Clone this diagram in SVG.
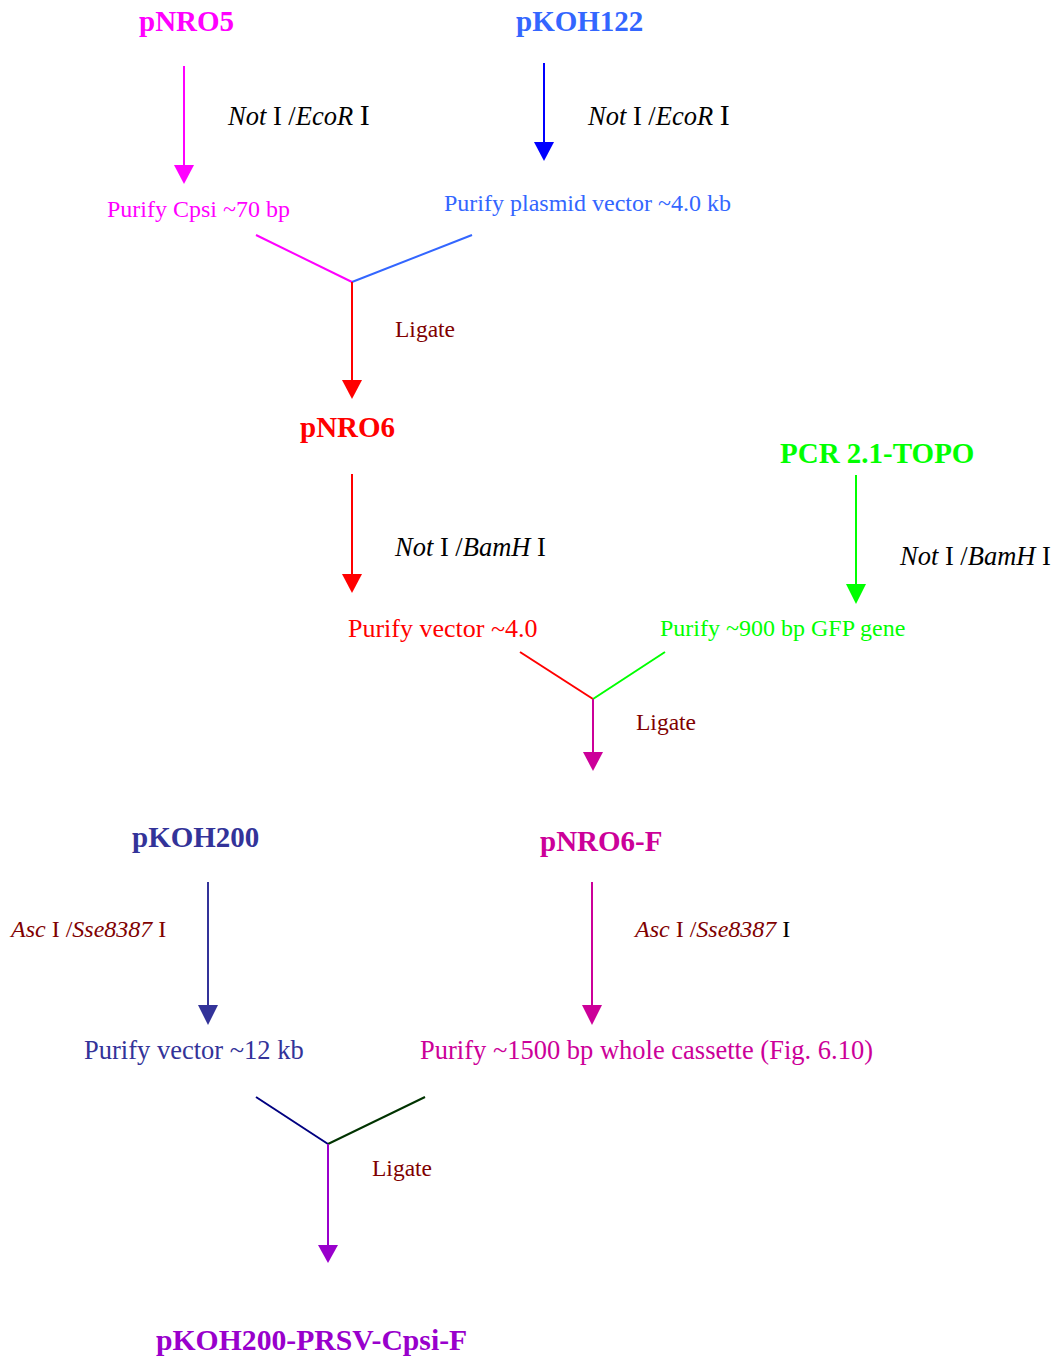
<svg xmlns="http://www.w3.org/2000/svg" width="1057" height="1360" viewBox="0 0 1057 1360">
<style>
text{font-family:"Liberation Serif","Times New Roman",serif}
.t{font-weight:bold;font-size:29px}
.p{font-size:24px}
.p26{font-size:26.5px}
.e{font-size:26.5px;fill:#000}
.a{font-size:24px;fill:#800000}
.i{font-style:italic}
.lg{font-size:23.5px;fill:#800000}
.ln{stroke-width:2;fill:none}
</style>
<rect width="1057" height="1360" fill="#fff"/>
<g id="connectors">
  <line class="ln" x1="184" y1="66" x2="184" y2="168" stroke="#FF00FF"/>
  <polygon points="174,165 194,165 184,184" fill="#FF00FF"/>
  <line class="ln" x1="544" y1="63" x2="544" y2="145" stroke="#0000FF"/>
  <polygon points="534,142 554,142 544,161" fill="#0000FF"/>
  <line class="ln" x1="256" y1="235" x2="352" y2="282" stroke="#FF00FF"/>
  <line class="ln" x1="472" y1="235" x2="352" y2="282" stroke="#3366FF"/>
  <line class="ln" x1="352" y1="282" x2="352" y2="383" stroke="#FF0000"/>
  <polygon points="342,380 362,380 352,399" fill="#FF0000"/>
  <line class="ln" x1="352" y1="474" x2="352" y2="577" stroke="#FF0000"/>
  <polygon points="342,574 362,574 352,593" fill="#FF0000"/>
  <line class="ln" x1="856" y1="475" x2="856" y2="587" stroke="#00FF00"/>
  <polygon points="846,584 866,584 856,604" fill="#00FF00"/>
  <line class="ln" x1="520" y1="652" x2="593" y2="699" stroke="#FF0000"/>
  <line class="ln" x1="665" y1="652" x2="593" y2="699" stroke="#00FF00"/>
  <line class="ln" x1="593" y1="699" x2="593" y2="755" stroke="#CC0099"/>
  <polygon points="583,752 603,752 593,771" fill="#CC0099"/>
  <line class="ln" x1="208" y1="882" x2="208" y2="1008" stroke="#333399"/>
  <polygon points="198,1005 218,1005 208,1025" fill="#333399"/>
  <line class="ln" x1="592" y1="882" x2="592" y2="1008" stroke="#CC0099"/>
  <polygon points="582,1005 602,1005 592,1025" fill="#CC0099"/>
  <line class="ln" x1="256" y1="1097" x2="328" y2="1144" stroke="#000080"/>
  <line class="ln" x1="425" y1="1097" x2="328" y2="1144" stroke="#003300"/>
  <line class="ln" x1="328" y1="1144" x2="328" y2="1248" stroke="#9900CC"/>
  <polygon points="318,1245 338,1245 328,1263" fill="#9900CC"/>
</g>
<g id="pNRO5"><text class="t" x="139" y="31" fill="#FF00FF">pNRO5</text></g>
<g id="pKOH122"><text class="t" x="516" y="31" fill="#3366FF">pKOH122</text></g>
<g id="enz1"><text class="e" x="228" y="125"><tspan class="i">Not</tspan> I /<tspan class="i">EcoR</tspan> <tspan font-size="30">I</tspan></text></g>
<g id="enz2"><text class="e" x="588" y="125"><tspan class="i">Not</tspan> I /<tspan class="i">EcoR</tspan> <tspan font-size="30">I</tspan></text></g>
<g id="cpsi"><text class="p" x="107" y="217" fill="#FF00FF">Purify Cpsi ~70 bp</text></g>
<g id="vec40"><text class="p" x="444" y="211" fill="#3366FF">Purify plasmid vector ~4.0 kb</text></g>
<g id="ligate1"><text class="lg" x="395" y="337">Ligate</text></g>
<g id="pNRO6"><text class="t" x="300" y="437" fill="#FF0000">pNRO6</text></g>
<g id="pcr"><text class="t" x="780" y="463" fill="#00FF00">PCR 2.1-TOPO</text></g>
<g id="enz3"><text class="e" x="395" y="556"><tspan class="i">Not</tspan> I /<tspan class="i">BamH</tspan> I</text></g>
<g id="enz4"><text class="e" x="900" y="565"><tspan class="i">Not</tspan> I /<tspan class="i">BamH</tspan> I</text></g>
<g id="vec4"><text x="348" y="637" fill="#FF0000" style="font-size:26px">Purify vector ~4.0</text></g>
<g id="gfp"><text class="p" x="660" y="636" fill="#00FF00">Purify ~900 bp GFP gene</text></g>
<g id="ligate2"><text class="lg" x="636" y="730">Ligate</text></g>
<g id="pKOH200"><text class="t" x="132" y="847" fill="#333399">pKOH200</text></g>
<g id="pNRO6F"><text class="t" x="540" y="851" fill="#CC0099">pNRO6-F</text></g>
<g id="enz5"><text class="a" x="11" y="937"><tspan class="i">Asc</tspan> I /<tspan class="i">Sse8387</tspan> I</text></g>
<g id="enz6"><text class="a" x="635" y="937"><tspan class="i">Asc</tspan> I /<tspan class="i">Sse8387</tspan> <tspan fill="#000">I</tspan></text></g>
<g id="vec12"><text class="p26" x="84" y="1059" fill="#333399">Purify vector ~12 kb</text></g>
<g id="cassette"><text class="p26" x="420" y="1059" fill="#CC0099">Purify ~1500 bp whole cassette (Fig. 6.10)</text></g>
<g id="ligate3"><text class="lg" x="372" y="1176">Ligate</text></g>
<g id="final"><text class="t" x="156" y="1350" fill="#9900CC" style="font-size:29.7px">pKOH200-PRSV-Cpsi-F</text></g>
</svg>
